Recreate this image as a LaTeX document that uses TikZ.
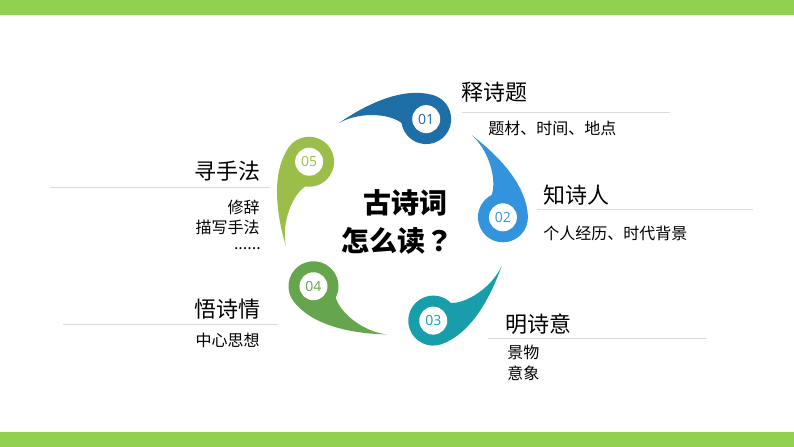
\documentclass[tikz,border=0pt]{standalone}
\usepackage{fontspec}
\newfontfamily\cjk{Noto Sans CJK SC}
\newfontfamily\cjktc{Noto Sans CJK TC}
\newfontfamily\numfont{Open Sans}

\definecolor{barGreen}{RGB}{146,208,80}
\definecolor{drop1}{RGB}{30,110,168}
\definecolor{drop2}{RGB}{52,147,221}
\definecolor{drop3}{RGB}{24,158,170}
\definecolor{drop4}{RGB}{100,165,78}
\definecolor{drop5}{RGB}{155,190,75}

\tikzset{
  title/.style={inner sep=0.75pt, font=\cjk\bfseries\fontsize{21}{25}\selectfont},
  head/.style={inner sep=0.75pt, font=\cjk\fontsize{16.5}{20}\selectfont},
  sub/.style={inner sep=0.75pt, font=\cjk\fontsize{12}{15}\selectfont},
  rule/.style={draw=black!14, line width=0.75pt},
  numdot/.style={circle, fill=white, minimum size=21pt, inner sep=0pt, font=\numfont\fontsize{10.5}{12}\selectfont}
}

\begin{document}
\begin{tikzpicture}[x=0.75pt,y=0.75pt,yscale=-1,xscale=1]
\useasboundingbox (0,0) rectangle (794,447);

%Bars top and bottom
\fill[barGreen] (0,0) rectangle (794,15);
\fill[barGreen] (0,432) rectangle (794,447);

%Drops round the centre
\begin{scope}[shift={(397,221)}, yscale=-1]
\foreach \ang/\col/\num in {74/drop1/01, 2/drop2/02, -70/drop3/03, -142/drop4/04, 146/drop5/05} {
  \begin{scope}[rotate=\ang-90, shift={(0,106)}]
    \fill[\col] (-83,-28) .. controls (-60,0) and (-30,25) .. (0,25) arc[start angle=90, end angle=-155, radius=25] .. controls (-36,-5) and (-65,-10) .. (-83,-28) -- cycle;
    \node[numdot, text=\col] (n\num) at (0,0) {\num};
  \end{scope}
}
\end{scope}

% Centre text
\node[title] (t1) at (405,203) {古诗词};
\node[title] (t2) at (397,241) {怎么读{\cjktc ？}};

% 01
\node[head, anchor=west] (h1) at (460,92) {释诗题};
\draw[rule] (462,112) -- (670,112);
\node[sub, anchor=west] (s1) at (487,128) {题材、时间、地点};
% 02
\node[head, anchor=west] (h2) at (542,195) {知诗人};
\draw[rule] (537,209.5) -- (753,209.5);
\node[sub, anchor=west] (s2) at (542,233) {个人经历、时代背景};
% 03
\node[head, anchor=west] (h3) at (504,324) {明诗意};
\draw[rule] (488,338) -- (707,338);
\node[sub, anchor=west] (s3) at (506,352) {景物};
\node[sub, anchor=west] (s3b) at (506,373) {意象};
% 04
\node[head, anchor=east] (h4) at (262,309) {悟诗情};
\draw[rule] (63,324) -- (278,324);
\node[sub, anchor=east] (s4) at (261,340) {中心思想};
% 05
\node[head, anchor=east] (h5) at (262,171) {寻手法};
\draw[rule] (50,187) -- (270,187);
\node[sub, anchor=east] (s5) at (261,207) {修辞};
\node[sub, anchor=east] (s5b) at (261,227) {描写手法};
\node[sub, anchor=base east, inner sep=0pt] (s5c) at (261,249) {......};

\end{tikzpicture}
\end{document}
